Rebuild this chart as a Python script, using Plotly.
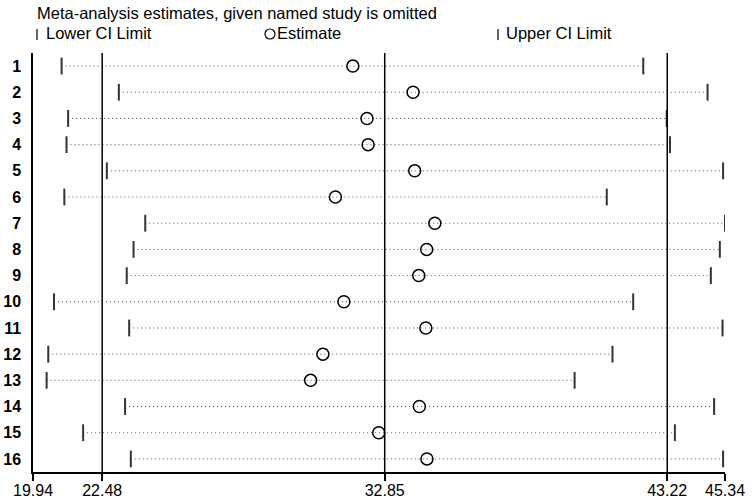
import plotly.graph_objects as go

studies = [str(i) for i in range(1, 17)]
lower = [20.99, 23.09, 21.23, 21.17, 22.65, 21.09, 24.06, 23.63, 23.38, 20.71, 23.47, 20.50, 20.44, 23.32, 21.78, 23.53]
estimate = [31.68, 33.89, 32.20, 32.24, 33.95, 31.04, 34.69, 34.39, 34.10, 31.35, 34.36, 30.58, 30.13, 34.12, 32.63, 34.40]
upper = [42.34, 44.70, 43.20, 43.32, 45.27, 41.00, 45.34, 45.15, 44.82, 41.97, 45.25, 41.21, 39.82, 44.94, 43.50, 45.27]
ref_lines = [22.48, 32.85, 43.22]
tick_vals = [19.94, 22.48, 32.85, 43.22, 45.34]
tick_text = ["19.94", "22.48", "32.85", "43.22", "45.34"]

FONT = "Liberation Sans, Arial, sans-serif"

ypos = list(range(1, 17))

line_x, line_y = [], []
for lo, hi, y in zip(lower, upper, ypos):
    line_x += [lo, hi, None]
    line_y += [y, y, None]

fig = go.Figure()
fig.add_trace(go.Scatter(x=line_x, y=line_y, mode="lines",
                         line=dict(color="#555555", width=1, dash="1px,3px"),
                         hoverinfo="skip", showlegend=False))
fig.add_trace(go.Scatter(x=lower, y=ypos, mode="markers",
                         marker=dict(symbol="line-ns", size=12, line=dict(color="#333333", width=2)),
                         showlegend=False))
fig.add_trace(go.Scatter(x=upper, y=ypos, mode="markers",
                         marker=dict(symbol="line-ns", size=12, line=dict(color="#333333", width=2)),
                         showlegend=False))
fig.add_trace(go.Scatter(x=estimate, y=ypos, mode="markers",
                         marker=dict(symbol="circle-open", size=12, color="black", line=dict(color="black", width=1.5)),
                         showlegend=False))

for v in ref_lines:
    fig.add_shape(type="line", xref="x", yref="paper", x0=v, x1=v, y0=0, y1=1,
                  line=dict(color="black", width=1.5))

# Title and legend (paper coords; plot area spans 33..725 px horizontally, 53..472 px vertically)
def px_x(p):
    return (p - 33) / 692.0

def px_y(p):
    return (472 - p) / 419.0

TS = 16.5
fig.add_annotation(xref="paper", yref="paper", x=px_x(35), y=px_y(13), xanchor="left", yanchor="middle",
                   text="Meta-analysis estimates, given named study is omitted", showarrow=False,
                   font=dict(family=FONT, size=TS, color="black"))
leg_y = px_y(33)
fig.add_shape(type="line", xref="paper", yref="paper", x0=px_x(37), x1=px_x(37), y0=px_y(40), y1=px_y(29),
              line=dict(color="#333333", width=1.5))
fig.add_annotation(xref="paper", yref="paper", x=px_x(44), y=leg_y, xanchor="left", yanchor="middle",
                   text="Lower CI Limit", showarrow=False, font=dict(family=FONT, size=TS, color="black"))
fig.add_shape(type="circle", xref="paper", yref="paper", x0=px_x(265), x1=px_x(275), y0=px_y(39), y1=px_y(29),
              line=dict(color="black", width=1.2))
fig.add_annotation(xref="paper", yref="paper", x=px_x(275), y=leg_y, xanchor="left", yanchor="middle",
                   text="Estimate", showarrow=False, font=dict(family=FONT, size=TS, color="black"))
fig.add_shape(type="line", xref="paper", yref="paper", x0=px_x(498), x1=px_x(498), y0=px_y(40), y1=px_y(29),
              line=dict(color="#333333", width=1.5))
fig.add_annotation(xref="paper", yref="paper", x=px_x(504), y=leg_y, xanchor="left", yanchor="middle",
                   text="Upper CI Limit", showarrow=False, font=dict(family=FONT, size=TS, color="black"))

fig.update_layout(
    width=752, height=502,
    margin=dict(l=33, r=27, t=53, b=30, autoexpand=False),
    paper_bgcolor="white", plot_bgcolor="white",
    showlegend=False,
    xaxis=dict(range=[19.94, 45.34], tickvals=tick_vals, ticktext=tick_text, automargin=False,
               showgrid=False, zeroline=False, showline=True, linecolor="black", linewidth=1.5,
               ticks="outside", ticklen=7, tickwidth=1.5, tickcolor="black", ticklabelstandoff=-4,
               tickfont=dict(family=FONT, size=16, color="black")),
    yaxis=dict(range=[16.5, 0.5], tickvals=ypos, ticktext=studies, automargin=False,
               showgrid=False, zeroline=False, showline=True, linecolor="black", linewidth=1.5,
               ticks="", ticklabelstandoff=7,
               tickfont=dict(family=FONT, size=16, color="black", weight="bold")),
)

fig.write_html("out.html", config={"displayModeBar": False},
               post_script="document.body.style.margin='0';document.body.style.overflow='hidden';")
